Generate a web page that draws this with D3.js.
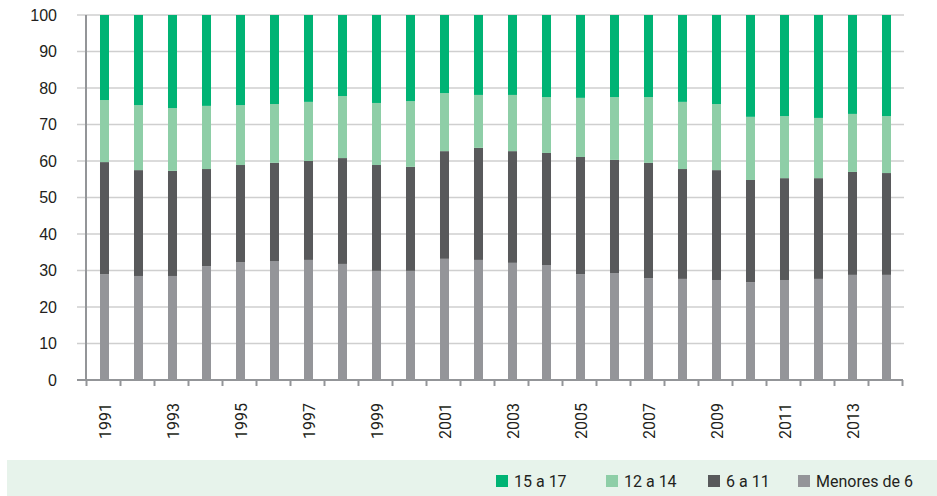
<!DOCTYPE html>
<html>
<head>
<meta charset="utf-8">
<script src="https://cdn.jsdelivr.net/npm/d3@7/dist/d3.min.js"></script>
<style>
  html, body { margin: 0; padding: 0; background: #fff; }
  svg { display: block; }
  text { font-family: "Liberation Sans Narrow", "Roboto", "DejaVu Sans Condensed", sans-serif; fill: #231f20; }
</style>
</head>
<body>
<svg id="chart" width="937" height="496"></svg>
<script>
// Years on the horizontal axis
const years = d3.range(1991, 2015);

// Share of each age group per year (%), stacked bottom to top
const menores6 = [29.0, 28.5, 28.5, 31.2, 32.3, 32.6, 32.9, 31.8, 29.9, 29.9, 33.2, 32.9,
                  32.1, 31.5, 29.0, 29.3, 27.9, 27.7, 27.4, 26.8, 27.4, 27.7, 28.8, 28.8];
const de6a11   = [30.7, 29.0, 28.8, 26.6, 26.6, 26.9, 27.1, 29.0, 29.0, 28.5, 29.5, 30.7,
                  30.6, 30.7, 32.1, 31.0, 31.6, 30.1, 30.1, 28.0, 27.9, 27.6, 28.2, 27.9];
const de12a14  = [17.0, 17.8, 17.2, 17.3, 16.4, 16.1, 16.2, 17.0, 17.0, 18.0, 15.9, 14.5,
                  15.4, 15.3, 16.2, 17.2, 18.0, 18.4, 18.1, 17.3, 17.0, 16.5, 15.9, 15.6];
const de15a17  = [23.3, 24.7, 25.5, 24.9, 24.7, 24.4, 23.8, 22.2, 24.1, 23.6, 21.4, 21.9,
                  21.9, 22.5, 22.7, 22.5, 22.5, 23.8, 24.4, 27.9, 27.7, 28.2, 27.1, 27.7];

// Y axis ticks and labelled years
const yTicks = d3.range(0, 101, 10);
const labelledYears = years.filter(y => y % 2 === 1);

// Series names (stack order) and legend order
const seriesKeys = ["Menores de 6", "6 a 11", "12 a 14", "15 a 17"];
const legendKeys = ["15 a 17", "12 a 14", "6 a 11", "Menores de 6"];
const colors = {
  "15 a 17": "#00b374",
  "12 a 14": "#8ecea7",
  "6 a 11": "#58595b",
  "Menores de 6": "#949599"
};

const rows = years.map((yr, i) => ({
  year: yr,
  "Menores de 6": menores6[i],
  "6 a 11": de6a11[i],
  "12 a 14": de12a14[i],
  "15 a 17": de15a17[i]
}));

const svg = d3.select("#chart");
const plot = { left: 86, right: 902, top: 15, bottom: 380 };

const x = d3.scaleBand()
  .domain(years)
  .range([plot.left + 1.5, plot.right + 1.5])
  .paddingInner(0.735)
  .paddingOuter(0.3675);

const y = d3.scaleLinear().domain([0, 100]).range([plot.bottom, plot.top]);

// Horizontal gridlines
svg.append("g")
  .selectAll("line")
  .data(yTicks.filter(t => t > 0))
  .join("line")
  .attr("x1", 77).attr("x2", 904)
  .attr("y1", d => y(d)).attr("y2", d => y(d))
  .attr("stroke", "#cfcfcf")
  .attr("stroke-width", 1.5);

// Stacked bars
const stacked = d3.stack().keys(seriesKeys)(rows);
svg.append("g")
  .selectAll("g")
  .data(stacked)
  .join("g")
  .attr("fill", d => colors[d.key])
  .selectAll("rect")
  .data(d => d)
  .join("rect")
  .attr("x", d => x(d.data.year))
  .attr("width", x.bandwidth())
  .attr("y", d => y(d[1]))
  .attr("height", d => y(d[0]) - y(d[1]));

// Y axis: labels and vertical line
const yAxis = svg.append("g")
  .attr("transform", `translate(${plot.left},0)`)
  .call(d3.axisLeft(y).tickValues(yTicks).tickSize(0).tickPadding(29));
yAxis.select(".domain").remove();
yAxis.selectAll("text")
  .style("font-size", "16px")
  .style("font-family", "'Liberation Sans Narrow', sans-serif")
  .attr("fill", "#231f20");

svg.append("line")
  .attr("x1", plot.left).attr("x2", plot.left)
  .attr("y1", plot.top).attr("y2", plot.bottom)
  .attr("stroke", "#939598").attr("stroke-width", 2);

// X axis: baseline with ticks at the band boundaries
const xEdges = d3.scaleLinear().domain([0, years.length]).range([plot.left, plot.right]);
const xAxis = svg.append("g")
  .attr("transform", `translate(0,${plot.bottom})`)
  .call(d3.axisBottom(xEdges).tickValues(d3.range(0, years.length + 1)).tickSize(6).tickFormat(""));
xAxis.select(".domain").remove();
xAxis.selectAll(".tick line").attr("stroke", "#939598").attr("stroke-width", 2);

svg.append("line")
  .attr("x1", 77).attr("x2", plot.right + 1)
  .attr("y1", plot.bottom).attr("y2", plot.bottom)
  .attr("stroke", "#939598").attr("stroke-width", 2);

// Rotated year labels for odd years
svg.append("g")
  .selectAll("text")
  .data(labelledYears)
  .join("text")
  .attr("transform", d => `translate(${x(d) + x.bandwidth() / 2 + 6},403) rotate(-90)`)
  .attr("text-anchor", "end")
  .style("font-size", "16px")
  .text(d => d);

// Legend band
svg.append("rect")
  .attr("x", 7).attr("y", 460)
  .attr("width", 930).attr("height", 36)
  .attr("fill", "#e7f3eb");

const legendX = [496, 606, 708, 798];
const legend = svg.append("g")
  .selectAll("g")
  .data(legendKeys)
  .join("g")
  .attr("transform", (d, i) => `translate(${legendX[i]},475)`);
legend.append("rect")
  .attr("width", 12).attr("height", 12)
  .attr("fill", d => colors[d]);
legend.append("text")
  .attr("x", 18).attr("y", 12)
  .style("font-size", "16px")
  .text(d => d);
</script>
</body>
</html>
